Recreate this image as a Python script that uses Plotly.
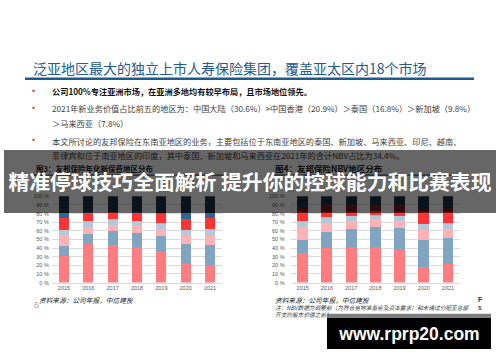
import plotly.graph_objects as go

W, H = 500, 362

# ---------------- data ----------------
years = ["2015", "2016", "2017", "2018", "2019", "2020", "2021"]
ytick_vals = [0, 10, 20, 30, 40, 50, 60, 70, 80, 90, 100]
ytick_text = ["0 %", "10 %", "20 %", "30 %", "40 %", "50 %", "60 %", "70 %", "80 %", "90 %", "100 %"]

# Figure 3: annualised new premium by region (share, %), bottom -> top
f3_names = ["中国香港", "中国大陆", "泰国", "新加坡", "其他市场", "马来西亚", "集团其他"]
f3_s1 = [30.5, 44.4, 44.0, 41.4, 35.7, 21.8, 19.9]
f3_s2 = [11.6, 12.0, 15.4, 16.1, 18.8, 22.6, 24.1]
f3_s3 = [11.7, 7.9, 7.5, 8.3, 7.9, 10.1, 9.8]
f3_s4 = [7.5, 6.7, 6.4, 5.6, 6.8, 6.8, 8.6]
f3_s5 = [13.1, 9.8, 8.3, 9.4, 10.8, 12.8, 12.0]
f3_s6 = [6.8, 0.5, 0.5, 0.5, 0.5, 7.1, 6.8]
f3_s7 = [18.8, 18.7, 17.9, 18.7, 19.5, 18.8, 18.8]

# Figure 4: NBV by region (share, %), bottom -> top
f4_names = ["中国香港", "中国大陆", "泰国", "新加坡", "马来西亚", "其他市场", "集团其他"]
f4_s1 = [34.6, 40.3, 40.7, 41.8, 37.3, 18.3, 21.3]
f4_s2 = [15.2, 17.9, 22.0, 23.2, 26.2, 31.5, 30.4]
f4_s3 = [14.8, 11.4, 8.8, 8.4, 7.5, 11.4, 10.3]
f4_s4 = [7.3, 6.1, 5.7, 5.3, 5.8, 6.8, 7.6]
f4_s5 = [9.8, 6.0, 4.5, 3.8, 4.9, 14.5, 12.1]
f4_s6 = [6.1, 8.0, 6.9, 7.5, 6.9, 1.1, 5.0]
f4_s7 = [12.2, 10.3, 11.4, 10.0, 11.4, 16.4, 13.3]

f3_colors = ["#FF7C80", "#7FA5C3", "#FFB2B6", "#B3C8D9", "#FF3535", "#2E6695", "#17303F"]
f4_colors = ["#FF7C80", "#7FA5C3", "#FFB2B6", "#B3C8D9", "#FF3535", "#7B1818", "#17303F"]

# ---------------- helpers ----------------
def X(px):
    return px / W

def Y(py):
    return 1 - py / H

CJK = "Noto Sans CJK SC"
LAT = "Liberation Sans"

fig = go.Figure()

f3 = [f3_s1, f3_s2, f3_s3, f3_s4, f3_s5, f3_s6, f3_s7]
f4 = [f4_s1, f4_s2, f4_s3, f4_s4, f4_s5, f4_s6, f4_s7]
for name, vals, col in zip(f3_names, f3, f3_colors):
    fig.add_trace(go.Bar(x=years, y=vals, name=name, marker_color=col,
                         marker_line_width=0, width=0.42,
                         xaxis="x", yaxis="y", showlegend=False))
for name, vals, col in zip(f4_names, f4, f4_colors):
    fig.add_trace(go.Bar(x=years, y=vals, name=name, marker_color=col,
                         marker_line_width=0, width=0.45,
                         xaxis="x2", yaxis="y2", showlegend=False))

ydom = [Y(284.3), Y(196.6)]
axfont = dict(family=LAT, size=5.5, color="#595959")
common_y = dict(range=[0, 100], tickvals=ytick_vals, ticktext=ytick_text,
                showgrid=True, gridcolor="#D9D9D9", gridwidth=1,
                zeroline=False, showline=False, ticks="", tickfont=axfont,
                domain=ydom, fixedrange=True)
common_x = dict(type="category", showgrid=False, showline=True, linecolor="#D9D9D9",
                linewidth=1, ticks="", tickfont=axfont, range=[-0.5, 6.5])

fig.update_layout(
    width=W, height=H,
    margin=dict(l=0, r=0, t=0, b=0),
    paper_bgcolor="white", plot_bgcolor="white",
    barmode="stack",
    xaxis=dict(common_x, domain=[X(51.8), X(222.2)], anchor="y"),
    yaxis=dict(common_y, anchor="x", ticklabelstandoff=2),
    xaxis2=dict(common_x, domain=[X(290.6), X(460.1)], anchor="y2"),
    yaxis2=dict(common_y, anchor="x2", ticklabelstandoff=5),
)

ann = []

def txt(px, py, s, size, color, family=CJK, xanchor="left"):
    ann.append(dict(x=X(px), y=Y(py), xref="paper", yref="paper", text=s,
                    showarrow=False, xanchor=xanchor, yanchor="middle",
                    font=dict(family=family, size=size, color=color)))

# title
txt(31, 66.5, "泛亚地区最大的独立上市人寿保险集团，覆盖亚太区内18个市场", 14, "#245A8E")

# bullets
for by in [89.5, 106.5, 139.5]:
    txt(30, by, "•", 9, "#E5482A", family=LAT)

txt(50, 89.5, "<b>公司100%专注亚洲市场，在亚洲多地均有较早布局，且市场地位领先。</b>", 8.2, "#111111")
txt(50, 107, "2021年新业务价值占比前五的地区为：中国大陆（30.6%）>中国香港（20.9%）＞泰国（16.8%）＞新加坡（9.8%）", 8.2, "#404040")
txt(50, 122.5, "＞马来西亚（7.8%）", 8.2, "#404040")
txt(50, 140, "本文所讨论的友邦保险在东南亚地区的业务，主要包括位于东南亚地区的泰国、新加坡、马来西亚、印尼、越南、", 8.2, "#404040")
txt(50, 154.5, "菲律宾和位于南亚地区的印度，其中泰国、新加坡和马来西亚在2021年的合计NBV占比为34.4%。", 8.2, "#404040")

# chart titles
txt(34, 168, "<b>图3：友邦保险年化新保费地区分布</b>", 7.5, "#222222")
txt(273, 168, "<b>图4：友邦保险NBV地区分布</b>", 8.5, "#222222")

# sources / notes
txt(37, 301.5, "<i>资料来源：公司年报，中信建投</i>", 6.7, "#222222")
txt(273, 301.5, "<i>资料来源：公司年报，中信建投</i>", 6.7, "#222222")
txt(273, 309.5, "<i>注：NBV数据为调整前（为符合当地准备金及资本要求）和未通过分配至总部</i>", 5.7, "#333333")
txt(273, 317, "<i>开支的股东价值之前）</i>", 5.7, "#333333")
txt(32, 307.5, "6", 9, "#A6A6A6", family=LAT)
txt(476, 302, "<b>F</b>", 7, "#333333", family=LAT)
txt(476, 310.5, "<b>S</b>", 5.5, "#333333", family=LAT)

# overlay banner (drawn after the texts it covers)
ann.append(dict(x=X(250), y=Y(181.4), xref="paper", yref="paper",
                text="<b>精准停球技巧全面解析 提升你的控球能力和比赛表现</b>",
                showarrow=False, xanchor="center", yanchor="middle",
                width=492, height=62.5, bgcolor="rgba(0,0,0,0.6)",
                borderpad=0, borderwidth=0,
                font=dict(family=CJK, size=20.8, color="white")))

# watermark box
ann.append(dict(x=X(409), y=Y(336), xref="paper", yref="paper",
                text="<b>www.rprp20.com</b>",
                showarrow=False, xanchor="center", yanchor="middle",
                width=164, height=31, bgcolor="#000000",
                borderpad=0, borderwidth=0,
                font=dict(family=LAT, size=17.5, color="white")))

fig.update_layout(annotations=ann)

shapes = [
    dict(type="line", xref="paper", yref="paper", x0=X(25), x1=X(474), y0=Y(77), y1=Y(77),
         line=dict(color="#1F5A8C", width=2.5)),
    dict(type="line", xref="paper", yref="paper", x0=X(34), x1=X(226), y0=Y(175), y1=Y(175),
         line=dict(color="#1F2F3F", width=1)),
    dict(type="line", xref="paper", yref="paper", x0=X(272), x1=X(466), y0=Y(175), y1=Y(175),
         line=dict(color="#1F2F3F", width=1)),
    dict(type="rect", xref="paper", yref="paper", x0=X(327), x1=X(491), y0=Y(320.5), y1=Y(316),
         fillcolor="#7F7F7F", line=dict(width=0), layer="above"),
]
fig.update_layout(shapes=shapes)

fig.write_html("out.html")
